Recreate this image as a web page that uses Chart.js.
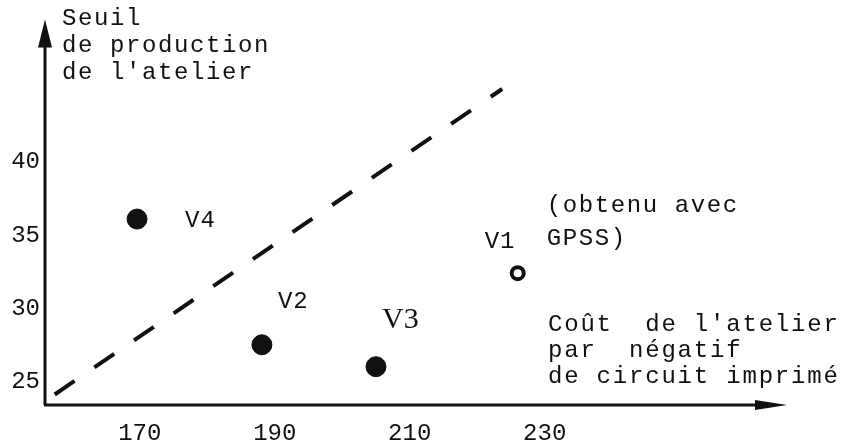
<!DOCTYPE html>
<html>
<head>
<meta charset="utf-8">
<script src="https://cdn.jsdelivr.net/npm/chart.js@4.4.1/dist/chart.umd.min.js"></script>
<style>
  html, body { margin: 0; padding: 0; background: #fff; }
</style>
</head>
<body>
<canvas id="chart" width="842" height="444"></canvas>
<script>
// tick labels
const xTicks = [170, 190, 210, 230];
const yTicks = [25, 30, 35, 40];

// versions placed by hand (filled dots)
const versionNames = ['V4', 'V2', 'V3'];
const versionCost = [169.6, 188.1, 205.0];
const versionSeuil = [36.1, 27.5, 26.0];

// version obtained with GPSS
const gpssNames = ['V1'];
const gpssCost = [226.0];
const gpssSeuil = [32.4];

// dashed limit line
const limitCost = [157.4, 223.7];
const limitSeuil = [24.1, 45.0];

const mono = '"Liberation Mono", "DejaVu Sans Mono", monospace';
const ink = '#111';

function toPoints(xs, ys) {
  return xs.map((v, i) => ({ x: v, y: ys[i] }));
}

function write(ctx, text, x, y, font, spacing) {
  ctx.font = font;
  if ('letterSpacing' in ctx) ctx.letterSpacing = (spacing || 0) + 'px';
  ctx.fillText(text, x, y);
}

// axes with arrows, axis titles and point labels
const decor = {
  id: 'decor',
  afterDraw(chart) {
    const { ctx, chartArea: a } = chart;
    ctx.save();
    ctx.strokeStyle = ink;
    ctx.fillStyle = ink;
    ctx.lineWidth = 3;

    ctx.beginPath();
    ctx.moveTo(a.left, a.bottom);
    ctx.lineTo(a.left, a.top + 20);
    ctx.moveTo(a.left - 1, a.bottom);
    ctx.lineTo(a.right - 20, a.bottom);
    ctx.stroke();

    // arrow heads
    ctx.beginPath();
    ctx.moveTo(a.left, a.top);
    ctx.lineTo(a.left - 7, a.top + 28);
    ctx.lineTo(a.left + 7, a.top + 28);
    ctx.closePath();
    ctx.fill();
    ctx.beginPath();
    ctx.moveTo(a.right, a.bottom);
    ctx.lineTo(a.right - 32, a.bottom - 5);
    ctx.lineTo(a.right - 32, a.bottom + 5);
    ctx.closePath();
    ctx.fill();

    ctx.textAlign = 'left';
    ctx.textBaseline = 'alphabetic';
    const f = '24px ' + mono;

    // axis titles
    write(ctx, 'Seuil', a.left + 17, 25, f, 1.6);
    write(ctx, 'de production', a.left + 17, 52, f, 1.6);
    write(ctx, "de l'atelier", a.left + 17, 79, f, 1.6);

    write(ctx, 'Coût  de l\'atelier', 548, 331, f, 1.8);
    write(ctx, 'par  négatif', 548, 357, f, 1.8);
    write(ctx, 'de circuit imprimé', 548, 383, f, 1.8);

    // point labels
    const pts = chart.getDatasetMeta(1).data;
    const off = [[48, 8], [16, -37], [6, -39]];
    pts.forEach((p, i) => {
      const serif = versionNames[i] === 'V3';
      const font = serif ? '30px "Liberation Serif", serif' : f;
      write(ctx, versionNames[i], p.x + off[i][0], p.y + off[i][1], font, serif ? 0 : 1);
    });
    const g = chart.getDatasetMeta(2).data[0];
    write(ctx, gpssNames[0], g.x - 33, g.y - 25, f, 1);
    write(ctx, '(obtenu avec', g.x + 29, g.y - 61, f, 1.6);
    write(ctx, 'GPSS)', g.x + 29, g.y - 28, f, 1.6);

    if ('letterSpacing' in ctx) ctx.letterSpacing = '0px';
    ctx.restore();
  }
};

new Chart(document.getElementById('chart'), {
  type: 'scatter',
  data: {
    datasets: [
      {
        type: 'line',
        data: toPoints(limitCost, limitSeuil),
        borderColor: ink,
        borderWidth: 4,
        borderDash: [24, 24],
        pointRadius: 0,
        fill: false
      },
      {
        data: toPoints(versionCost, versionSeuil),
        backgroundColor: ink,
        borderColor: ink,
        pointRadius: 10
      },
      {
        data: toPoints(gpssCost, gpssSeuil),
        backgroundColor: '#fff',
        borderColor: ink,
        borderWidth: 4,
        pointRadius: 6
      }
    ]
  },
  options: {
    responsive: false,
    animation: false,
    devicePixelRatio: 1,
    layout: { padding: { top: 18, right: 55, left: 0, bottom: 0 } },
    plugins: {
      legend: { display: false },
      tooltip: { enabled: false }
    },
    scales: {
      x: {
        type: 'linear',
        min: 155.96,
        max: 265.9,
        afterBuildTicks: s => { s.ticks = xTicks.map(v => ({ value: v })); },
        afterFit: s => { s.height = 39; },
        grid: { display: false, drawTicks: false },
        border: { display: false },
        ticks: { color: ink, padding: 14, font: { family: mono, size: 24 } }
      },
      y: {
        type: 'linear',
        min: 23.38,
        max: 49.76,
        afterBuildTicks: s => { s.ticks = yTicks.map(v => ({ value: v })); },
        afterFit: s => { s.width = 45; },
        grid: { display: false, drawTicks: false },
        border: { display: false },
        ticks: { color: ink, padding: 5, font: { family: mono, size: 24 } }
      }
    }
  },
  plugins: [decor]
});
</script>
</body>
</html>
